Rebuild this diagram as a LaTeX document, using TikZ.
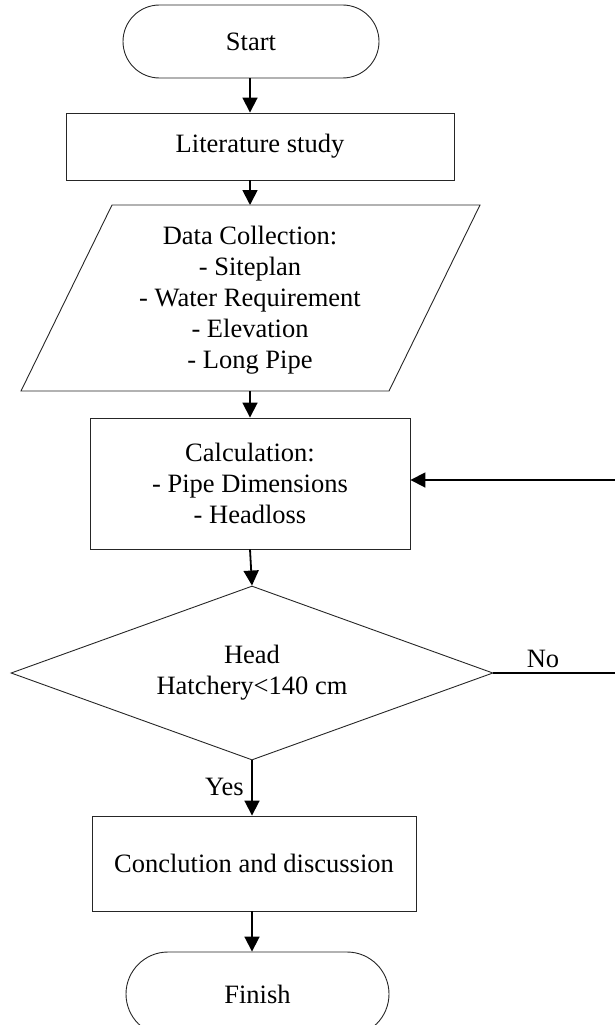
\documentclass[tikz,border=0pt]{standalone}
\usepackage{fontspec}
\setmainfont{Liberation Serif}
\usetikzlibrary{shapes.geometric,shapes.misc,arrows.meta}

\begin{document}
\begin{tikzpicture}[x=1pt,y=-1pt]
    \tikzstyle{every node}=[font=\fontsize{26.5}{31}\selectfont, align=center, inner sep=0pt];
    \tikzstyle{box}=[draw=black!85, line width=0.9pt, shape=rectangle];
    \tikzstyle{term}=[draw=black!85, line width=0.9pt, shape=rounded rectangle];
    \tikzstyle{flow}=[line width=1.8pt, -{Triangle[length=15pt,width=15pt]}];
    \useasboundingbox (0,0) rectangle (614,1025);
    \node[term, minimum width=256pt, minimum height=73pt] (Start) at (251,41.5) {Start};
    \node[box, minimum width=388pt, minimum height=67pt] (Lit) at (260,146.5) {Literature study};
    \node (Data) at (250,300) {Data Collection:\\- Siteplan\\- Water Requirement\\- Elevation\\- Long Pipe};
    \draw[draw=black!85, line width=0.9pt] (112,205) -- (480,205) -- (389,391) -- (21,391) -- cycle;
    \coordinate (DataTop) at (250,205);
    \coordinate (DataBot) at (250,391);
    \node[box, minimum width=320pt, minimum height=131pt] (Calc) at (250,483.5) {Calculation:\\- Pipe Dimensions\\- Headloss};
    \node[draw=black!85, line width=0.9pt, shape=diamond, aspect=2.77, minimum width=482pt, minimum height=174pt] (Head) at (252,673) {Head\\Hatchery<140 cm};
    \node[box, minimum width=324pt, minimum height=95pt] (Concl) at (254,863.5) {Conclution and discussion};
    \node[term, minimum width=263pt, minimum height=84pt] (Finish) at (257.5,994) {Finish};
    \coordinate (LoopB) at (620,673);
    \coordinate (LoopT) at (620,480);
    \draw[flow] (Start.south -| DataTop) -- (DataTop |- Lit.north);
    \draw[flow] (DataTop |- Lit.south) -- (DataTop);
    \draw[flow] (DataBot) -- (DataBot |- Calc.north);
    \draw[flow] (DataBot |- Calc.south) -- (Head.north);
    \draw[flow] (Head.south) -- (Head.south |- Concl.north);
    \draw[flow] (Head.south |- Concl.south) -- (Head.south |- Finish.north);
    \draw[flow] (Head.east) -- (LoopB) -- (LoopT) -- (Calc.east |- LoopT);
    \node[anchor=east] (Yes) at (244,787) {Yes};
    \node (No) at (543,659) {No};
  \end{tikzpicture}
\end{document}
